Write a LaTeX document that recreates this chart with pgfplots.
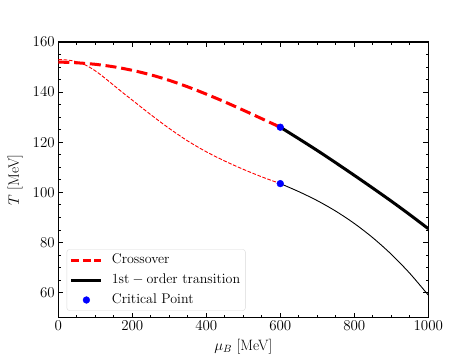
\RequirePackage{fix-cm}
\documentclass[border=0pt]{standalone}
\usepackage{pgfplots}
\pgfplotsset{compat=1.18}

\begin{document}
\begin{tikzpicture}
\begin{axis}[
    name=ax,
    scale only axis,
    width=370pt, height=275.7pt,
    xmin=0, xmax=1000, ymin=50, ymax=160,
    xtick={0,200,...,1000}, ytick={60,80,...,160},
    minor x tick num=3, minor y tick num=3,
    tick align=inside, xtick pos=both, ytick pos=both,
    major tick length=5pt, minor tick length=2.5pt,
    axis line style={line width=1.1pt},
    every tick/.style={black, line width=0.9pt},
    /pgf/number format/1000 sep={},
    tick label style={font=\fontsize{15}{18}\selectfont},
    xlabel={$\mu_B$ [MeV]}, ylabel={$T$ [MeV]},
    every axis x label/.style={at={(axis description cs:0.5,-0.106)}, anchor=center,
        font=\fontsize{15}{18}\selectfont},
    every axis y label/.style={at={(axis description cs:-0.117,0.5)}, rotate=90, anchor=center,
        font=\fontsize{15}{18}\selectfont},
    legend style={at={(axis description cs:0.0227,0.0254)}, anchor=south west,
        draw=black!15, rounded corners=2.5pt, fill=white,
        font=\fontsize{14}{16}\selectfont, inner xsep=3pt, inner ysep=2pt,
        row sep=3pt, nodes={inner sep=2pt, text height=10pt, text depth=3pt},
        /tikz/every odd column/.append style={column sep=7pt}},
    legend cell align=left,
]
% thin curves (no legend)
\addplot[red, line width=0.9pt, dash pattern=on 3.7pt off 1.6pt, smooth, forget plot] coordinates {
    (0,153.0) (25,152.8) (50,152.1) (75,150.7) (100,148.5) (125,145.7) (150,142.7)
    (175,139.7) (200,136.8) (250,131.0) (300,125.5) (350,120.5) (400,116.2)
    (450,112.5) (500,109.2) (550,106.2) (600,103.5)};
\addplot[black, line width=0.9pt, smooth, forget plot] coordinates {
    (600,103.5) (650,100.3) (700,96.7) (750,92.5) (800,87.6) (850,81.9)
    (900,75.3) (950,67.7) (1000,59.0)};
% thick curves
\addplot[red, line width=3pt, dash pattern=on 11pt off 4.8pt, smooth,
    legend image code/.code={\draw[red, line width=3pt, dash pattern=on 8pt off 3.5pt] (0pt,0pt) -- (30pt,0pt);}]
    coordinates {
    (0,152.0) (50,151.7) (100,151.1) (150,150.1) (200,148.7) (250,146.9)
    (300,144.7) (350,142.1) (400,139.2) (450,136.1) (500,132.8) (550,129.4) (600,126.0)};
\addplot[black, line width=3pt, smooth,
    legend image code/.code={\draw[black, line width=3pt] (0pt,0pt) -- (30pt,0pt);}]
    coordinates {
    (600,126.0) (650,121.4) (700,116.7) (750,111.8) (800,106.8) (850,101.7)
    (900,96.5) (950,91.1) (1000,85.5)};
\addplot[only marks, mark=*, mark size=3.4pt, blue, mark options={draw=blue, fill=blue},
    legend image code/.code={\fill[blue] (15pt,0pt) circle (3.4pt);}]
    coordinates {(600,126.0) (600,103.5)};
\legend{Crossover, $\mathrm{1st}-\mathrm{order\ transition}$, Critical Point}
\end{axis}
\pgfresetboundingbox
\path[use as bounding box] ([xshift=-58.3pt,yshift=-39.3pt]ax.south west) rectangle ([xshift=47.7pt,yshift=42pt]ax.north east);
\end{tikzpicture}
\end{document}
